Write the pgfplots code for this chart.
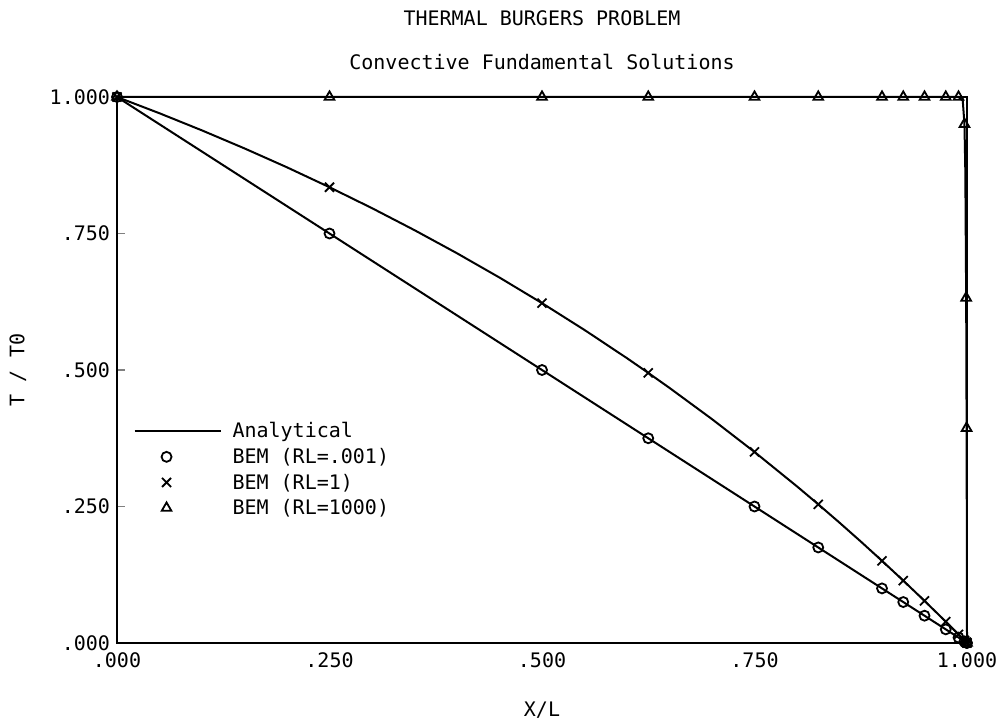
\documentclass[border=0pt]{standalone}
\usepackage{pgfplots}
\pgfplotsset{compat=1.18}
\usepackage{fontspec}
\setmainfont{DejaVu Sans Mono}

\pgfplotsset{
  lineleg/.style={legend image code/.code={\draw[##1] (0pt,0pt) -- (43pt,0pt);}},
  markleg/.style={legend image code/.code={\draw[##1] plot coordinates {(16pt,0pt)};}},
}

% nodes of the BEM solutions
\pgfplotstableread{
x      low    one     high
0      1      1       1
0.25   0.75   0.8347  1
0.5    0.5    0.6225  1
0.625  0.375  0.4947  1
0.75   0.25   0.3499  1
0.825  0.175  0.2540  1
0.9    0.1    0.1505  1
0.925  0.075  0.1143  1
0.95   0.05   0.0772  1
0.975  0.025  0.0391  1
0.99   0.01   0.0157  1
0.997  0.003  0.0047  0.9502
0.999  0.001  0.0016  0.6321
0.9995 0.0005 0.0008  0.3935
1      0      0       0
}\bem

\begin{document}
\fontsize{10}{12}\selectfont
\begin{tikzpicture}
\begin{axis}[
    name=ax, at={(0,0)}, anchor=south west,
    scale only axis, width=425pt, height=273pt,
    xmin=0, xmax=1, ymin=0, ymax=1,
    clip=false,
    axis line style={line width=1.3pt},
    xtick={0,0.25,0.5,0.75,1},
    xticklabels={.000,.250,.500,.750,1.000},
    ytick={0,0.25,0.5,0.75,1},
    yticklabels={.000,.250,.500,.750,1.000},
    xtick style={draw=none},
    ytick pos=left, tick align=inside, major tick length=4pt,
    ytick style={line width=0.8pt},
    ticklabel style={font=\fontsize{10}{12}\selectfont},
    xticklabel style={yshift=-1.5pt},
    legend style={draw=none, fill=none, inner sep=0pt,
        at={(0.019,0.412)}, anchor=north west,
        font=\fontsize{10}{12}\selectfont,
        nodes={inner sep=0.5pt, text height=9.2pt, text depth=2.6pt},
        column sep=5pt, cells={anchor=west}},
]
\addplot[black, line width=1pt, lineleg] coordinates {(0,1)(1,0)};
\addlegendentry{Analytical}
\addplot[black, line width=1pt, forget plot] coordinates {
(0,1)(0.05,0.9702)(0.1,0.9388)(0.15,0.9058)(0.2,0.8712)(0.25,0.8347)
(0.3,0.7964)(0.35,0.7561)(0.4,0.7138)(0.45,0.6693)(0.5,0.6225)
(0.55,0.5733)(0.6,0.5216)(0.625,0.4947)(0.65,0.4672)(0.7,0.4100)
(0.75,0.3499)(0.8,0.2868)(0.825,0.2540)(0.85,0.2204)(0.875,0.1859)
(0.9,0.1505)(0.925,0.1143)(0.95,0.0772)(0.975,0.0391)(0.99,0.0157)(1,0)};
\addplot[black, line width=1pt, forget plot] coordinates {
(0,1)(0.99,1)(0.995,0.9933)(0.997,0.9502)(0.998,0.8647)
(0.999,0.6321)(0.9995,0.3935)(0.9998,0.1813)(1,0)};
\addplot[only marks, mark=o, mark size=2.5pt, mark options={line width=0.9pt}, markleg]
    table[x=x, y=low] {\bem};
\addlegendentry{BEM (RL=.001)}
\addplot[only marks, mark=x, mark size=3.2pt, mark options={line width=0.9pt}, markleg]
    table[x=x, y=one] {\bem};
\addlegendentry{BEM (RL=1)}
\addplot[only marks, mark=triangle, mark size=2.8pt, mark options={line width=0.9pt}, markleg]
    table[x=x, y=high] {\bem};
\addlegendentry{BEM (RL=1000)}
\end{axis}
\node at ([yshift=39.5pt]ax.north) {THERMAL BURGERS PROBLEM};
\node at ([yshift=17.5pt]ax.north) {Convective Fundamental Solutions};
\node at ([yshift=-33.5pt]ax.south) {X/L};
\node[rotate=90] at ([xshift=-49.5pt]ax.west) {T / T0};
\pgfresetboundingbox
\path ([shift={(-58.5pt,-39.5pt)}]ax.south west) rectangle ([shift={(18.5pt,48.5pt)}]ax.north east);
\end{tikzpicture}
\end{document}
